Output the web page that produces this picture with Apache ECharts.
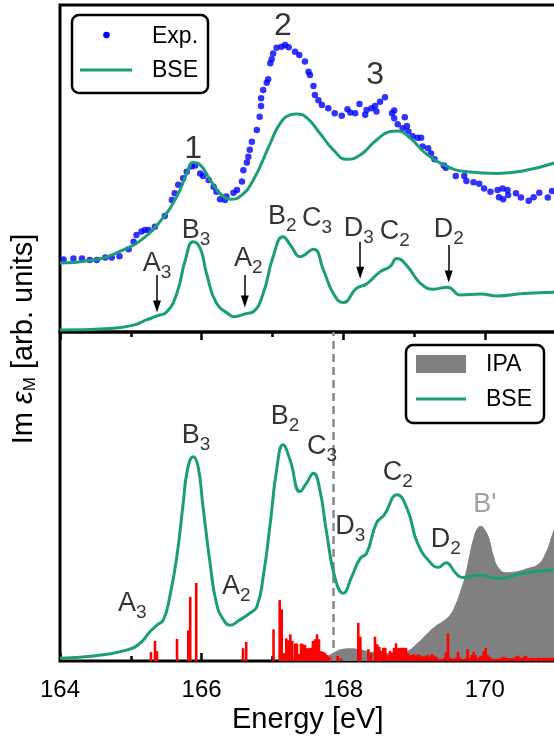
<!DOCTYPE html>
<html><head><meta charset="utf-8">
<script src="https://cdn.jsdelivr.net/npm/echarts@6/dist/echarts.min.js"></script>
<style>html,body{margin:0;padding:0;background:#fff}#c{width:554px;height:744px}</style>
</head><body><div id="c"></div>
<script>
const FONT = '"Liberation Sans", Arial, Helvetica, sans-serif';
const GREEN = '#1b9e77';

// ---------- top panel: experiment ----------
const expEnergy = [164.05,164.19,164.31,164.42,164.52,164.64,164.73,164.84,164.97,165.04,165.08,165.15,165.20,165.25,165.34,165.48,165.58,165.62,165.67,165.74,165.79,165.86,165.91,165.98,166.02,166.10,166.17,166.21,166.26,166.33,166.35,166.45,166.50,166.57,166.59,166.64,166.66,166.68,166.71,166.78,166.82,166.84,166.84,166.87,166.92,166.94,166.97,166.99,167.01,167.06,167.13,167.18,167.23,167.32,167.38,167.46,167.51,167.53,167.58,167.60,167.65,167.70,167.79,167.88,167.98,168.06,168.10,168.17,168.23,168.31,168.33,168.40,168.45,168.47,168.52,168.59,168.69,168.72,168.72,168.77,168.84,168.87,168.90,168.92,168.98,169.05,169.10,169.12,169.20,169.24,169.29,169.42,169.45,169.59,169.71,169.74,169.84,169.92,169.99,170.08,170.18,170.20,170.25,170.26,170.32,170.33,170.44,170.51,170.62,170.69,170.77,170.89,170.95];
const expValue = [22.2,22.5,22.5,22.0,22.0,22.8,22.8,23.2,25.3,27.6,29.7,30.7,31.2,31.2,32.2,35.5,40.4,42.4,45.0,47.0,49.0,50.6,50.9,48.5,47.7,46.5,44.4,42.9,40.6,40.4,41.4,42.6,43.4,46.0,49.5,51.8,53.6,55.7,58.2,61.8,65.8,69.1,71.5,74.0,76.2,77.3,82.2,83.4,85.2,86.9,87.2,87.8,87.1,85.7,84.7,82.7,79.6,78.6,75.2,72.5,70.9,69.4,68.4,66.9,66.1,68.1,67.1,66.9,69.7,66.4,67.9,68.4,69.1,67.4,70.4,71.8,66.9,67.7,65.4,63.5,62.3,65.7,63.0,61.3,59.9,59.4,59.4,56.7,56.2,54.6,52.8,50.9,50.2,47.7,47.7,46.2,45.8,45.3,43.9,42.9,43.4,41.2,43.9,40.6,43.4,41.9,42.4,41.1,40.1,41.2,42.6,41.1,43.1];

// ---------- top panel: BSE (broadened) ----------
const bseTopEnergy = [164.00,164.47,164.94,165.18,165.41,165.65,165.79,165.88,165.98,166.12,166.26,166.41,166.54,166.73,166.97,167.11,167.25,167.34,167.49,167.67,167.86,168.05,168.24,168.47,168.66,168.76,168.95,169.14,169.42,169.75,170.18,170.55,171.00];
const bseTopValue = [21.1,22.0,25.6,28.7,33.7,41.4,48.5,51.8,51.1,46.5,42.4,40.6,41.4,46.5,57.7,63.8,66.4,66.7,65.4,60.8,55.7,52.8,54.1,58.7,61.3,61.5,59.2,55.1,51.1,49.0,48.5,49.3,51.8];

// ---------- top panel: BSE (fine) ----------
const bseFineEnergy = [164.00,164.71,165.04,165.22,165.37,165.51,165.65,165.77,165.88,165.98,166.07,166.21,166.40,166.45,166.64,166.73,166.87,167.01,167.15,167.27,167.39,167.58,167.72,167.86,168.00,168.19,168.33,168.52,168.66,168.76,168.91,169.09,169.28,169.47,169.66,169.94,170.18,170.55,171.00];
const bseFineValue = [0.6,1.1,2.1,3.7,4.9,6.2,11.8,22.0,27.6,25.6,17.9,8.8,5.2,4.7,5.7,6.2,11.8,23.0,29.1,26.1,23.0,25.3,19.0,11.8,9.0,13.4,14.7,18.4,20.0,22.5,20.0,14.9,13.1,13.7,11.3,11.6,11.0,11.8,12.2];

// ---------- bottom panel: BSE ----------
const bseBotEnergy = [164.00,164.47,164.94,165.13,165.27,165.37,165.46,165.55,165.65,165.74,165.80,165.88,165.95,166.02,166.12,166.21,166.31,166.40,166.54,166.68,166.78,166.87,166.97,167.06,167.15,167.25,167.39,167.48,167.58,167.67,167.76,167.88,168.00,168.12,168.24,168.33,168.47,168.58,168.76,168.91,169.05,169.24,169.35,169.45,169.59,169.68,169.94,170.18,170.55,171.00];
const bseBotValue = [0.8,1.5,3.3,5.4,8.9,10.9,12.5,19.5,31.7,47.9,58.1,62.1,59.1,46.9,29.7,17.5,12.5,10.9,12.5,14.5,16.5,25.6,41.9,58.1,65.7,61.1,51.5,54.0,57.1,52.0,39.8,25.6,20.6,25.6,31.2,32.7,41.9,44.4,50.5,45.9,35.8,29.7,28.5,29.9,26.7,25.4,26.1,25.1,26.7,27.7];

// ---------- bottom panel: IPA ----------
const ipaEnergy = [164.0,167.6,167.7,167.8,167.9,168.0,168.1,168.25,168.4,168.6,168.8,168.9,169.0,169.1,169.2,169.3,169.42,169.5,169.57,169.65,169.72,169.78,169.84,169.9,169.95,170.0,170.06,170.13,170.2,170.3,170.45,170.6,170.75,170.85,170.92,171.0];
const ipaValue = [0,0,0.5,1.8,3.0,3.7,3.9,3.5,2.8,2.4,2.5,3.0,4.5,6.5,8.7,10.6,12.3,13.8,16.5,21,26,32,37.5,40.5,41.0,40.0,37.5,31.7,28.3,27.0,27.3,28.2,29.4,32.5,36.5,42.0];

// ---------- bottom panel: oscillator strengths ----------
const barEnergy = [165.285,165.342,165.370,165.653,165.812,165.839,165.924,166.585,166.630,167.016,167.103,167.131,167.160,167.196,167.225,167.253,167.281,167.322,167.347,167.376,167.404,167.432,167.460,167.489,167.517,167.545,167.573,167.602,167.630,167.658,167.686,167.715,167.743,167.771,167.799,167.856,167.922,167.969,
168.213,168.242,168.355,168.393,168.449,168.482,168.510,168.538,168.566,168.595,168.623,168.661,168.689,168.718,168.746,168.774,168.802,168.831,168.859,168.887,168.915,168.944,168.972,169.000,169.028,169.056,169.085,169.113,169.141,169.169,169.198,169.226,169.254,169.282,169.311,169.339,169.367,169.395,169.424,169.452,169.480,169.508,169.537,169.565,169.593,169.621,169.650,169.678,169.706,169.734,169.758,169.787,169.815,169.843,169.871,169.900,169.928,169.956,169.984,170.013,170.041,170.069,170.097,
170.13,170.16,170.19,170.21,170.24,170.27,170.30,170.33,170.36,170.38,170.41,170.44,170.47,170.50,170.53,170.55,170.58,170.61,170.64,170.67,170.69,170.72,170.75,170.78,170.81,170.84,170.86,170.89,170.92,170.95,170.98];
const barValue = [2.7,6.1,3.0,6.7,9.3,19.5,23.7,3.9,5.8,9.6,18.5,15.7,2.4,6.9,6.3,8.1,6.1,5.3,5.3,2.1,5.3,5.1,4.9,3.9,3.9,4.0,6.1,6.6,8.1,6.6,3.0,2.8,2.5,1.8,1.2,1.5,1.5,0.8,
11.6,7.4,3.6,2.3,7.4,5.1,4.3,3.1,4.0,4.0,1.8,3.1,2.6,4.0,5.4,3.9,4.0,4.0,4.0,4.0,2.3,1.8,1.8,2.0,1.6,2.0,1.8,1.5,1.3,1.6,1.8,1.3,2.1,1.6,1.3,0.8,0.6,0.6,1.0,2.6,8.3,1.0,0.6,0.8,1.0,2.8,1.0,0.6,0.6,0.8,3.6,1.0,1.8,2.8,1.8,1.0,1.3,1.6,3.0,4.0,1.8,1.2,0.8,
0.6,0.6,0.8,0.6,1.0,1.3,1.0,0.8,0.8,0.8,1.0,1.3,1.6,1.0,0.8,1.3,1.6,1.0,0.8,1.0,0.8,0.8,1.0,1.0,0.8,1.0,0.8,1.0,0.8,1.0,1.0];

// ---------- annotations ----------
const topNumberLabels = [[165.88,55.8,'1'],[167.15,93.4,'2'],[168.45,78.6,'3']];
const topPeakLabels = [[165.37,20.5,'A','3'],[165.92,30.6,'B','3'],[166.66,22.0,'A','2'],[167.14,34.9,'B','2'],[167.63,34.3,'C','3'],[168.22,31.2,'D','3'],[168.73,30.3,'C','2'],[169.49,30.9,'D','2']];
const topArrows = [[165.37,17.4,7.8],[166.61,17.4,9.3],[168.24,27.6,18.1],[169.49,26.6,17.0]];
const bottomPeakLabels = [[165.02,17.0,'A','3'],[165.92,68.1,'B','3'],[166.49,22.2,'A','2'],[167.18,73.9,'B','2'],[167.70,64.7,'C','3'],[168.10,40.4,'D','3'],[168.77,56.8,'C','2'],[169.45,36.5,'D','2']];
const bPrimeLabel = [170.00,47.7,"B'"];
const dashedEnergy = 167.86;
const xTicks = {min:164, max:172, interval:2};

const zip = (a,b) => a.map((x,i)=>[x,b[i]]);
const rich = {
  m:{fontSize:27,fontFamily:FONT,color:'#000',lineHeight:30,verticalAlign:'top'},
  s:{fontSize:19,fontFamily:FONT,color:'#000',lineHeight:22,padding:[13,0,0,0],verticalAlign:'top'},
  n:{fontSize:32,fontFamily:FONT,color:'#000'},
  g:{fontSize:27,fontFamily:FONT,color:'#888'}
};
const peakItems = arr => arr.map(a=>({value:[a[0],a[1]],label:{formatter:'{m|'+a[2]+'}{s|'+a[3]+'}'}}));
const labelSeries = (gi, data) => ({
  type:'scatter', xAxisIndex:gi===0?0:1, yAxisIndex:gi, symbolSize:1, silent:true,
  itemStyle:{color:'rgba(0,0,0,0)'}, z:20,
  label:{show:true, position:'inside', rich:rich}, data:data
});
const curve = (xi, yi, e, v, z) => ({type:'line', xAxisIndex:xi, yAxisIndex:yi, smooth:0.5, showSymbol:false,
  lineStyle:{color:GREEN, width:3}, itemStyle:{color:GREEN}, data:zip(e, v), z:z});

const tickStyle = {color:'#000', width:2.5};
const gridBase = {left:60, width:566.4, show:true, borderColor:'#000', borderWidth:3, containLabel:false, outerBoundsMode:'none'};
const chart = echarts.init(document.getElementById('c'), null, {renderer:'canvas'});
chart.setOption({
  animation:false,
  backgroundColor:'#fff',
  grid:[
    Object.assign({top:5, height:327}, gridBase),
    Object.assign({top:332, height:329}, gridBase)
  ],
  xAxis:[
    {gridIndex:0, type:'value', ...xTicks, axisLine:{show:false}, axisTick:{show:false}, axisLabel:{show:false}, splitLine:{show:false}},
    {gridIndex:1, type:'value', ...xTicks, position:'bottom', axisLine:{show:false},
      axisTick:{show:true, inside:true, length:8, lineStyle:tickStyle},
      minorTick:{show:true, splitNumber:2, length:5, lineStyle:tickStyle},
      axisLabel:{fontSize:24, color:'#000', fontFamily:FONT, margin:17},
      splitLine:{show:false}, minorSplitLine:{show:false},
      name:'Energy [eV]', nameLocation:'middle', nameGap:44,
      nameTextStyle:{fontSize:29, color:'#000', fontFamily:FONT, padding:[0,71,0,0]}},
    {gridIndex:1, type:'value', ...xTicks, position:'top', axisLine:{show:false},
      axisTick:{show:true, inside:true, length:8, lineStyle:tickStyle},
      minorTick:{show:true, splitNumber:2, length:5, lineStyle:tickStyle},
      axisLabel:{show:false}, splitLine:{show:false}}
  ],
  yAxis:[
    {gridIndex:0, type:'value', min:0, max:100, show:false},
    {gridIndex:1, type:'value', min:0, max:100, show:false}
  ],
  graphic:[
    {type:'text', x:24, y:339, rotation:Math.PI/2, style:{
      text:'{a|Im }{e|ε}{s|M}{a| [arb. units]}', align:'center', verticalAlign:'middle',
      rich:{a:{fontSize:29,fontFamily:FONT,fill:'#000'}, e:{fontSize:29,fontFamily:FONT,fontStyle:'italic',fill:'#000'}, s:{fontSize:17,fontFamily:FONT,fill:'#000',padding:[12,0,0,0]}}}},
    {type:'rect', shape:{x:72,y:15,width:136,height:78,r:7}, style:{fill:'#fff',stroke:'#000',lineWidth:2.5}, z:50},
    {type:'circle', shape:{cx:106.5,cy:35,r:3.3}, style:{fill:'#0000ff'}, z:51},
    {type:'line', shape:{x1:80,y1:70,x2:132,y2:70}, style:{stroke:GREEN,lineWidth:3}, z:51},
    {type:'text', x:152, y:37, style:{text:'Exp.', font:'23px '+FONT, fill:'#000', verticalAlign:'middle'}, z:51},
    {type:'text', x:152, y:71, style:{text:'BSE', font:'23px '+FONT, fill:'#000', verticalAlign:'middle'}, z:51},
    {type:'rect', shape:{x:406,y:345,width:138,height:78,r:7}, style:{fill:'#fff',stroke:'#000',lineWidth:2.5}, z:50},
    {type:'rect', shape:{x:416,y:355,width:50,height:18}, style:{fill:'#808080'}, z:51},
    {type:'line', shape:{x1:416,y1:399,x2:466,y2:399}, style:{stroke:GREEN,lineWidth:3}, z:51},
    {type:'text', x:486, y:365, style:{text:'IPA', font:'23px '+FONT, fill:'#000', verticalAlign:'middle'}, z:51},
    {type:'text', x:486, y:400, style:{text:'BSE', font:'23px '+FONT, fill:'#000', verticalAlign:'middle'}, z:51}
  ],
  series:[
    {name:'Exp.', type:'scatter', xAxisIndex:0, yAxisIndex:0, symbol:'circle', symbolSize:6.5,
      itemStyle:{color:'#0000ff'}, data:zip(expEnergy, expValue), z:3},
    Object.assign({name:'BSE'}, curve(0, 0, bseTopEnergy, bseTopValue, 4)),
    Object.assign({name:'BSE fine',
      markLine:{silent:true, symbol:['none','triangle'], symbolSize:[8,12], animation:false,
        lineStyle:{color:'#000', width:1.5, type:'solid'}, label:{show:false}, emphasis:{disabled:true},
        data: topArrows.map(a=>[{coord:[a[0],a[1]]},{coord:[a[0],a[2]]}])}},
      curve(0, 0, bseFineEnergy, bseFineValue, 4)),
    labelSeries(0, topNumberLabels.map(a=>({value:[a[0],a[1]],label:{formatter:'{n|'+a[2]+'}'}})).concat(peakItems(topPeakLabels))),
    {name:'IPA', type:'line', xAxisIndex:1, yAxisIndex:1, smooth:0.5, showSymbol:false,
      lineStyle:{width:0}, areaStyle:{color:'#808080', opacity:1}, itemStyle:{color:'#808080'},
      data:zip(ipaEnergy, ipaValue), z:2},
    {name:'strength', type:'bar', xAxisIndex:1, yAxisIndex:1, barWidth:2.6, itemStyle:{color:'#ff0000'},
      data:zip(barEnergy, barValue), z:3},
    Object.assign({name:'BSE',
      markLine:{silent:true, symbol:['none','none'], animation:false, label:{show:false},
        lineStyle:{color:'#888', width:2.5, type:[8,5]}, emphasis:{disabled:true},
        data:[{xAxis:dashedEnergy}]}},
      curve(1, 1, bseBotEnergy, bseBotValue, 5)),
    labelSeries(1, peakItems(bottomPeakLabels).concat([{value:[bPrimeLabel[0],bPrimeLabel[1]],label:{formatter:'{g|'+bPrimeLabel[2]+'}'}}]))
  ]
});
</script></body></html>
